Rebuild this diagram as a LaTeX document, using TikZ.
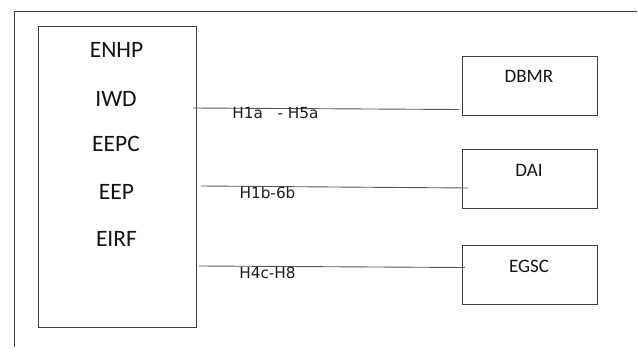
\documentclass[tikz,border=0pt]{standalone}
\usepackage{fontspec}
\setmainfont{Carlito}
\newfontfamily\labfont{DejaVu Sans}
\begin{document}
\begin{tikzpicture}[x=1pt,y=-1pt,
  boxst/.style={draw=black!75, line width=0.9pt, inner sep=0pt},
  bigtxt/.style={font=\fontsize{23.5}{23.5}\selectfont, text=black!92, inner sep=0pt},
  smalltxt/.style={font=\fontsize{19}{19}\selectfont, text=black!92, inner sep=0pt},
  labtxt/.style={font=\labfont\fontsize{15.3}{15.3}\selectfont, text=black!88, inner sep=0pt},
  conn/.style={draw=black!65, line width=0.9pt}]
\useasboundingbox (0,0) rectangle (638,356);
% outer frame
\coordinate (ftr) at (637,11);
\coordinate (ftl) at (14,11);
\coordinate (fbl) at (14,347);
\draw[draw=black!75, line width=0.9pt] (ftr) -- (ftl) -- (fbl);
% big box
\node[boxst, minimum width=158pt, minimum height=301pt] (big) at (117,176.5) {};
\node[bigtxt] (enhp) at (116.5,50.3) {ENHP};
\node[bigtxt] (iwd) at (116,98.5) {IWD};
\node[bigtxt] (eepc) at (116,143.7) {EEPC};
\node[bigtxt] (eep) at (116.5,192) {EEP};
\node[bigtxt] (eirf) at (116.5,238.7) {EIRF};
% right boxes
\node[boxst, minimum width=135pt, minimum height=59pt] (dbmrbox) at (529.5,85.5) {};
\node[boxst, minimum width=135pt, minimum height=59pt] (daibox) at (529.5,178.5) {};
\node[boxst, minimum width=135pt, minimum height=59pt] (egscbox) at (529.5,274.5) {};
\node[smalltxt] (dbmr) at (529,76) {DBMR};
\node[smalltxt] (dai) at (529,170.5) {DAI};
\node[smalltxt] (egsc) at (529,266) {EGSC};
% connectors
\coordinate (s1) at (193,108);
\coordinate (e1) at (459,109.5);
\coordinate (s2) at (201,186);
\coordinate (e2) at (468,188);
\coordinate (s3) at (199,266);
\coordinate (e3) at (465,267.5);
\draw[conn] (s1) -- (e1);
\draw[conn] (s2) -- (e2);
\draw[conn] (s3) -- (e3);
% labels
\node[labtxt] (l1) at (275.5,113.5) {H1a\ \ \ - H5a};
\node[labtxt] (l2) at (267.5,192.5) {H1b-6b};
\node[labtxt] (l3) at (267.5,273) {H4c-H8};
\end{tikzpicture}
\end{document}
